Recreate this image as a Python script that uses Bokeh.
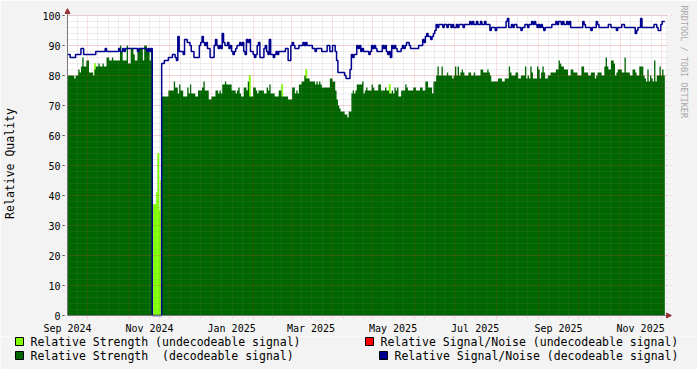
import math
import pandas as pd
from bokeh.plotting import figure
from bokeh.layouts import column
from bokeh.core.properties import value
from bokeh.models import (ColumnDataSource, Range1d, FixedTicker, SingleIntervalTicker,
                          DatetimeTickFormatter, BoxAnnotation, Arrow, NormalHead, Title)
from bokeh.embed import file_html
from bokeh.resources import INLINE

# ---------------- data (one value per day) ----------------
start_date = "2024-09-16"

strength_decodeable = [
    80, 80, 80, 80, 80, 79, 80, 80, 82, 81, 83, 86, 83, 83, 85, 85, 81, 81, 81, 80,
    82, 83, 83, 84, 83, 83, 84, 83, 83, 86, 86, 85, 85, 86, 85, 85, 85, 85, 85, 90,
    88, 85, 85, 85, 90, 84, 84, 89, 89, 87, 85, 85, 88, 89, 89, 89, 85, 90, 90, 88,
    88, 85, 89, 0, 0, 0, 0, 0, 0, 0, 73, 73, 73, 73, 73, 75, 75, 75, 75, 78,
    76, 76, 74, 77, 75, 75, 73, 73, 73, 76, 74, 77, 74, 74, 74, 73, 73, 75, 75, 75,
    76, 78, 75, 75, 75, 72, 72, 73, 73, 73, 75, 75, 74, 75, 74, 77, 77, 78, 77, 77,
    77, 77, 75, 75, 75, 74, 75, 76, 74, 73, 73, 76, 76, 75, 78, 73, 73, 73, 76, 76,
    75, 74, 75, 75, 75, 75, 74, 74, 76, 75, 77, 74, 74, 74, 73, 73, 73, 75, 75, 73,
    73, 73, 73, 73, 72, 72, 72, 76, 76, 74, 75, 74, 77, 77, 78, 78, 80, 79, 79, 79,
    78, 78, 78, 78, 77, 78, 77, 78, 77, 76, 76, 76, 76, 76, 76, 79, 79, 78, 78, 75,
    72, 70, 69, 68, 68, 68, 67, 67, 66, 68, 68, 74, 75, 74, 75, 77, 77, 77, 77, 78,
    74, 75, 76, 75, 75, 75, 77, 76, 75, 75, 75, 77, 77, 75, 75, 75, 76, 75, 75, 74,
    74, 75, 74, 76, 75, 76, 73, 73, 75, 75, 75, 77, 76, 75, 75, 75, 75, 76, 76, 75,
    75, 75, 76, 76, 75, 75, 78, 78, 76, 76, 76, 74, 78, 78, 80, 83, 80, 80, 83, 80,
    80, 80, 81, 80, 80, 80, 79, 80, 83, 80, 83, 80, 81, 82, 81, 80, 80, 80, 81, 81,
    80, 80, 81, 80, 80, 80, 80, 82, 82, 81, 81, 81, 82, 81, 80, 78, 78, 78, 78, 78,
    79, 79, 79, 78, 78, 79, 79, 79, 83, 81, 80, 80, 80, 81, 81, 79, 79, 80, 80, 80,
    83, 79, 80, 79, 83, 81, 79, 79, 79, 83, 82, 79, 81, 83, 81, 79, 79, 80, 80, 81,
    81, 81, 81, 82, 82, 85, 84, 83, 83, 82, 82, 82, 80, 80, 82, 82, 81, 81, 81, 80,
    80, 80, 83, 83, 81, 81, 81, 80, 80, 81, 81, 81, 79, 80, 81, 81, 81, 80, 80, 83,
    86, 83, 82, 82, 85, 85, 84, 80, 81, 82, 82, 82, 81, 81, 86, 81, 81, 81, 80, 80,
    82, 82, 81, 80, 80, 83, 83, 83, 80, 79, 78, 82, 78, 80, 79, 78, 85, 78, 80, 80,
    83, 80, 82, 80,
]

snr_decodeable = [
    87, 87, 86, 86, 86, 86, 87, 87, 87, 87, 89, 89, 87, 87, 87, 87, 87, 87, 87, 87,
    87, 88, 88, 88, 88, 88, 88, 88, 89, 88, 88, 88, 88, 88, 88, 88, 88, 88, 89, 88,
    88, 89, 88, 89, 89, 89, 89, 89, 89, 89, 89, 89, 88, 89, 89, 89, 89, 89, 89, 88,
    89, 88, 89, 0, 0, 0, 0, 0, 0, 0, 84, 84, 85, 85, 85, 86, 86, 86, 87, 87,
    86, 85, 93, 88, 88, 88, 87, 92, 92, 91, 91, 90, 88, 88, 86, 86, 86, 86, 90, 91,
    93, 91, 90, 91, 89, 89, 86, 86, 86, 90, 92, 90, 89, 90, 89, 94, 91, 90, 90, 91,
    89, 90, 88, 87, 88, 89, 90, 90, 91, 90, 91, 88, 87, 92, 91, 92, 88, 88, 87, 86,
    87, 90, 91, 86, 86, 86, 89, 90, 88, 87, 92, 87, 87, 86, 87, 88, 87, 88, 88, 88,
    88, 88, 89, 89, 85, 85, 90, 91, 90, 89, 89, 89, 90, 90, 90, 91, 90, 91, 90, 90,
    90, 90, 89, 89, 88, 89, 89, 89, 89, 88, 88, 88, 88, 90, 90, 88, 88, 90, 90, 88,
    85, 81, 81, 81, 81, 81, 80, 79, 79, 79, 82, 87, 86, 87, 87, 90, 89, 90, 88, 89,
    88, 88, 88, 88, 87, 88, 90, 89, 90, 89, 88, 88, 88, 88, 90, 89, 90, 88, 87, 88,
    86, 90, 89, 90, 89, 88, 88, 88, 89, 90, 89, 90, 91, 91, 90, 89, 89, 89, 89, 89,
    89, 90, 90, 90, 92, 91, 93, 94, 93, 93, 92, 93, 94, 95, 97, 96, 97, 97, 97, 96,
    97, 97, 96, 97, 97, 96, 97, 96, 96, 97, 96, 97, 97, 97, 96, 97, 97, 97, 97, 98,
    97, 98, 97, 97, 98, 97, 97, 98, 97, 97, 98, 97, 97, 97, 95, 96, 96, 96, 95, 96,
    96, 96, 96, 96, 96, 96, 98, 99, 96, 96, 97, 96, 97, 97, 96, 96, 96, 95, 96, 96,
    97, 97, 96, 97, 97, 98, 97, 98, 97, 96, 97, 96, 97, 96, 95, 96, 96, 96, 96, 96,
    97, 97, 97, 98, 97, 98, 98, 97, 98, 97, 97, 98, 97, 98, 96, 96, 96, 96, 96, 96,
    96, 96, 96, 98, 97, 96, 96, 96, 96, 95, 96, 96, 96, 98, 97, 96, 96, 96, 96, 96,
    96, 96, 97, 97, 96, 96, 96, 96, 95, 96, 96, 96, 97, 97, 96, 96, 96, 96, 96, 96,
    96, 96, 94, 95, 96, 96, 99, 96, 96, 96, 96, 96, 96, 96, 96, 96, 97, 97, 96, 95,
    95, 97, 98, 98,
]

# undecodeable strength: only the days where it rises above the decodeable area
undecodeable_days = [20, 63, 64, 65, 66, 67, 68, 69, 135, 159, 177, 239]
strength_undecodeable = [84, 37, 37, 37, 41, 54, 35, 45, 80, 77, 82, 77]

axis_label_dates = ["2024-09-16", "2024-11-16", "2025-01-16", "2025-03-16",
                    "2025-05-16", "2025-07-16", "2025-09-16", "2025-11-16"]
y_ticks = [0, 10, 20, 30, 40, 50, 60, 70, 80, 90, 100]

legend_texts = ["Relative Strength (undecodeable signal)",
                "Relative Signal/Noise (undecodeable signal)",
                "Relative Strength \u00a0(decodeable signal)",
                "Relative Signal/Noise (decodeable signal)"]

# ---------------- styling ----------------
C_LIME = "#7FFF00"
C_RED = "#FF0000"
C_GREEN = "#006600"
C_BLUE = "#000090"
C_BACK = "#F3F3F3"
FONT = "DejaVu Sans Mono"
DAY_MS = 86_400_000
PX_PER_DAY = 1.3498          # horizontal scale of the reference
FRAME_W = 609


def ms(ts):
    return pd.Timestamp(ts).value // 10**6


t0 = pd.Timestamp(start_date)
x0 = ms(t0)


def day_ms(d):
    return x0 + d * DAY_MS


n = len(strength_decodeable)
edges = pd.date_range(t0, periods=n + 1, freq="D")
edge_ms = [ms(e) for e in edges]

green_src = ColumnDataSource(dict(x=edge_ms, y=strength_decodeable + [strength_decodeable[-1]]))
blue_src = ColumnDataSource(dict(x=edge_ms, y=snr_decodeable + [snr_decodeable[-1]]))
lime_src = ColumnDataSource(dict(x=[day_ms(d + 0.5) for d in undecodeable_days],
                                 top=strength_undecodeable))

# frame a little larger than the white canvas so the axis arrows fit inside it
xr = Range1d(day_ms(-3 / PX_PER_DAY), day_ms((FRAME_W - 3) / PX_PER_DAY))
yr = Range1d(-1, 307 / 3)
canvas_right = day_ms(600 / PX_PER_DAY)
ms_per_px = (xr.end - xr.start) / FRAME_W


def crisp(t):
    """nudge a grid position onto a pixel centre so dotted lines render evenly"""
    px = (t - xr.start) / ms_per_px
    return xr.start + (math.floor(px) + 0.5) * ms_per_px


p = figure(width=697, height=336, x_axis_type="datetime", x_range=xr, y_range=yr,
           output_backend="svg", toolbar_location=None, tools="",
           min_border_left=64, min_border_right=24, min_border_top=8, min_border_bottom=18,
           background_fill_color=C_BACK, border_fill_color=C_BACK, outline_line_color=None)
p.frame_align = False

# white canvas
p.add_layout(BoxAnnotation(left=x0, right=canvas_right, bottom=0, top=100,
                           fill_color="white", fill_alpha=1.0, line_color=None, level="underlay"))

# data
p.vbar(x="x", width=DAY_MS, top="top", bottom=0, source=lime_src,
       fill_color=C_LIME, line_color=C_LIME, line_width=0.5)
p.varea_step(x="x", y1=0, y2="y", step_mode="after", source=green_src, fill_color=C_GREEN)
blue_r = p.step(x="x", y="y", mode="after", source=blue_src, line_color=C_BLUE, line_width=1.5)
blue_r.level = "annotation"

# grids (drawn over the areas, rrdtool style)
month_starts = pd.date_range("2024-09-01", "2026-01-01", freq="MS")
major_ms = [crisp(ms(m)) for m in month_starts if x0 < ms(m) < canvas_right]
minor_ms = []
for a, b in zip(month_starts[:-1], month_starts[1:]):
    for k in (1, 2, 3):
        v = ms(a) + (ms(b) - ms(a)) * k / 4
        if x0 < v < canvas_right:
            minor_ms.append(crisp(v))

xg = p.xgrid[0]
xg.ticker = FixedTicker(ticks=major_ms, minor_ticks=minor_ms)
yg = p.ygrid[0]
yg.ticker = SingleIntervalTicker(interval=10, num_minor_ticks=5)
for g in (xg, yg):
    g.level = "guide"
    g.grid_line_color = "#FF2020"
    g.grid_line_alpha = 0.28
    g.grid_line_dash = "1 1"
    g.grid_line_width = 1
    g.minor_grid_line_color = "#808080"
    g.minor_grid_line_alpha = 0.28
    g.minor_grid_line_dash = "1 1"
    g.minor_grid_line_width = 1

# hide grid outside the canvas (top, left, right strips)
mask_kw = dict(fill_color=C_BACK, fill_alpha=1.0, line_color=None, level="guide")
p.add_layout(BoxAnnotation(left=xr.start, right=xr.end, bottom=100.17, top=yr.end, **mask_kw))
p.add_layout(BoxAnnotation(left=xr.start, right=x0, bottom=yr.start, top=yr.end, **mask_kw))
p.add_layout(BoxAnnotation(left=day_ms(602 / PX_PER_DAY), right=xr.end,
                           bottom=yr.start, top=yr.end, **mask_kw))

# axes
xa = p.xaxis[0]
xa.ticker = FixedTicker(ticks=[ms(d) for d in axis_label_dates])
fmt = "%b %Y"
xa.formatter = DatetimeTickFormatter(days=fmt, months=fmt, years=fmt, hours=fmt,
                                     hourmin=fmt, minutes=fmt, minsec=fmt, seconds=fmt)
xa.major_tick_out = 0
xa.major_tick_in = 0
xa.minor_tick_out = 0
xa.minor_tick_in = 0
xa.axis_line_color = None
xa.major_label_standoff = 4

ya = p.yaxis[0]
ya.ticker = FixedTicker(ticks=y_ticks)
ya.major_tick_out = 2
ya.major_tick_in = 1
ya.minor_tick_out = 0
ya.minor_tick_in = 0
ya.major_tick_line_color = "#555555"
ya.axis_line_color = None
ya.major_label_standoff = 2
ya.axis_label = "Relative Quality"
ya.axis_label_text_font = FONT
ya.axis_label_text_font_size = "11.5px"
ya.axis_label_text_font_style = "normal"
ya.axis_label_text_color = "#000000"
ya.axis_label_standoff = 22

for ax in (xa, ya):
    ax.major_label_text_font = FONT
    ax.major_label_text_font_size = "10px"
    ax.major_label_text_color = "#000000"

# axis lines with arrow heads
head_kw = dict(size=5, fill_color="#993333", line_color="#993333")
p.add_layout(Arrow(x_start=x0, y_start=0, x_end=x0, y_end=yr.end,
                   line_color="#777777", line_width=1, end=NormalHead(**head_kw)))
p.add_layout(Arrow(x_start=x0, y_start=0, x_end=xr.end, y_end=0,
                   line_color="#777777", line_width=1, end=NormalHead(**head_kw)))

# vertical credit on the right
p.add_layout(Title(text="RRDTOOL / TOBI OETIKER", align="left", offset=-3, standoff=14,
                   text_font=FONT, text_font_size="8.5px", text_font_style="normal",
                   text_color="#A8A8A8"), "right")

# ---------------- legend strip (rrdtool style) ----------------
lg = figure(width=697, height=33, x_range=Range1d(0, 697), y_range=Range1d(33, 0),
            output_backend="svg", toolbar_location=None, tools="",
            x_axis_location=None, y_axis_location=None,
            min_border_left=0, min_border_right=0, min_border_top=0, min_border_bottom=0,
            background_fill_color=C_BACK, border_fill_color=C_BACK, outline_line_color=None)
lg.frame_align = False
lg.grid.visible = False

leg_src = ColumnDataSource(dict(
    bx=[19, 369, 19, 383], by=[5, 5, 19, 19],
    color=[C_LIME, C_RED, C_GREEN, C_BLUE],
    tx=[30, 380, 30, 394], ty=[5, 5, 19, 19],
    text=legend_texts))
lg.rect(x="bx", y="by", width=8, height=8, source=leg_src,
        fill_color="color", line_color="#000000", line_width=1)
lg.text(x="tx", y="ty", text="text", source=leg_src,
        text_font=value(FONT), text_font_size="11.5px",
        text_baseline="middle", text_align="left", text_color="#000000")

layout = column(p, lg, spacing=0)
open("out.html", "w").write(file_html(layout, INLINE))
